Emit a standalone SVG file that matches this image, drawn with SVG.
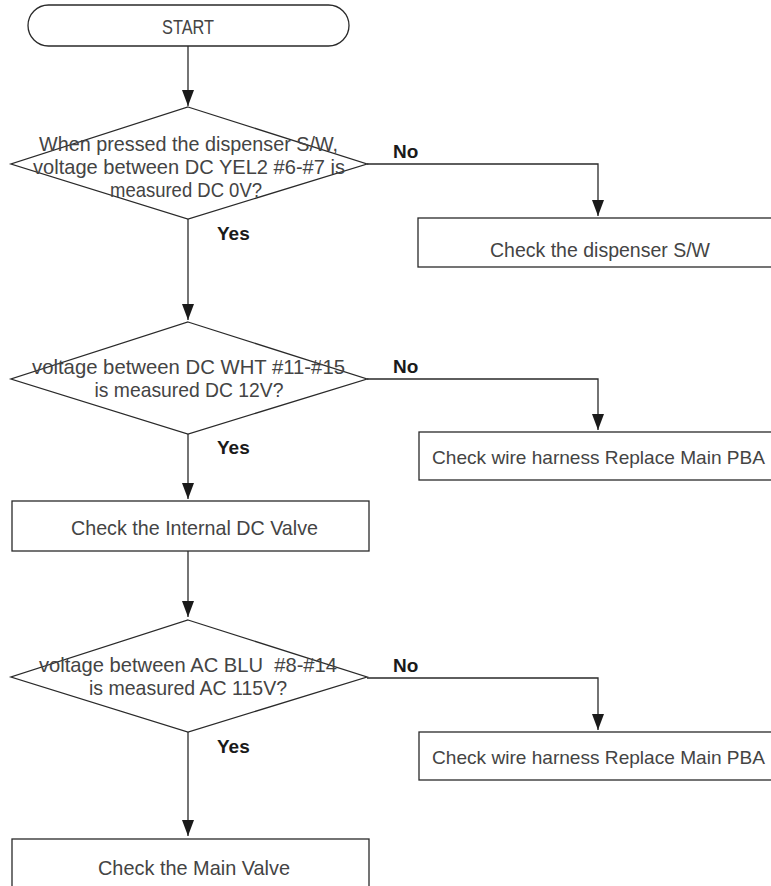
<svg xmlns="http://www.w3.org/2000/svg" width="771" height="886" viewBox="0 0 771 886">
<style>
.shape{fill:#fff;stroke:#2a2a2a;stroke-width:1.3}
.t{font-family:"Liberation Sans",Arial,sans-serif;font-size:21px;fill:#444;text-anchor:middle}
.s{font-size:18.5px}
.b{font-family:"Liberation Sans",Arial,sans-serif;font-size:19px;font-weight:bold;fill:#1a1a1a}
.c{fill:none;stroke:#2a2a2a;stroke-width:1.3}
</style>
<defs>
<marker id="arr" viewBox="0 0 16 12" refX="16" refY="6" markerWidth="16" markerHeight="12" markerUnits="userSpaceOnUse" orient="auto">
<path d="M0,0 L16,6 L0,12 z" fill="#1a1a1a"/>
</marker>
</defs>
<g id="connectors">
<path class="c" d="M188,46 V106" marker-end="url(#arr)"/>
<path class="c" d="M367,164 H598 V216" marker-end="url(#arr)"/>
<path class="c" d="M188,219 V320" marker-end="url(#arr)"/>
<path class="c" d="M367,379 H598 V430" marker-end="url(#arr)"/>
<path class="c" d="M188,434 V499" marker-end="url(#arr)"/>
<path class="c" d="M188,551 V617" marker-end="url(#arr)"/>
<path class="c" d="M367,678 H598 V730" marker-end="url(#arr)"/>
<path class="c" d="M188,732 V836" marker-end="url(#arr)"/>
<text class="b" x="393" y="158">No</text>
<text class="b" x="217" y="240">Yes</text>
<text class="b" x="393" y="373">No</text>
<text class="b" x="217" y="454">Yes</text>
<text class="b" x="393" y="672">No</text>
<text class="b" x="217" y="753">Yes</text>
</g>
<g id="start">
<rect class="shape" x="28" y="5" width="321" height="41" rx="20.5"/>
<text class="t" x="188" y="34" textLength="52" lengthAdjust="spacingAndGlyphs">START</text>
</g>
<g id="decision1">
<polygon class="shape" points="188,107 367,164 188,219 11,164"/>
<text class="t" x="188.5" y="151" textLength="299" lengthAdjust="spacingAndGlyphs">When pressed the dispenser S/W,</text>
<text class="t" x="189" y="174" textLength="312" lengthAdjust="spacingAndGlyphs">voltage between DC YEL2 #6-#7 is</text>
<text class="t" x="186" y="197" textLength="152" lengthAdjust="spacingAndGlyphs">measured DC 0V?</text>
</g>
<g id="check-switch">
<rect class="shape" x="418" y="218" width="370" height="49"/>
<text class="t" x="600" y="257" textLength="220" lengthAdjust="spacingAndGlyphs">Check the dispenser S/W</text>
</g>
<g id="decision2">
<polygon class="shape" points="188,322 367,379 188,434 11,379"/>
<text class="t" x="188.5" y="374" textLength="313" lengthAdjust="spacingAndGlyphs">voltage between DC WHT #11-#15</text>
<text class="t" x="189" y="397" textLength="189" lengthAdjust="spacingAndGlyphs">is measured DC 12V?</text>
</g>
<g id="check-harness1">
<rect class="shape" x="419" y="432" width="370" height="48"/>
<text class="t s" x="598.5" y="464" textLength="333" lengthAdjust="spacingAndGlyphs">Check wire harness Replace Main PBA</text>
</g>
<g id="check-dc-valve">
<rect class="shape" x="12" y="501" width="357" height="50"/>
<text class="t" x="194.5" y="535" textLength="247" lengthAdjust="spacingAndGlyphs">Check the Internal DC Valve</text>
</g>
<g id="decision3">
<polygon class="shape" points="188,620 367,677 188,732 11,677"/>
<text class="t" x="188" y="672" textLength="298" lengthAdjust="spacingAndGlyphs">voltage between AC BLU &#160;#8-#14</text>
<text class="t" x="188" y="695" textLength="198" lengthAdjust="spacingAndGlyphs">is measured AC 115V?</text>
</g>
<g id="check-harness2">
<rect class="shape" x="419" y="732" width="370" height="48"/>
<text class="t s" x="598.5" y="764" textLength="333" lengthAdjust="spacingAndGlyphs">Check wire harness Replace Main PBA</text>
</g>
<g id="check-main-valve">
<rect class="shape" x="12" y="839" width="357" height="60"/>
<text class="t" x="194" y="875" textLength="192" lengthAdjust="spacingAndGlyphs">Check the Main Valve</text>
</g>
</svg>
